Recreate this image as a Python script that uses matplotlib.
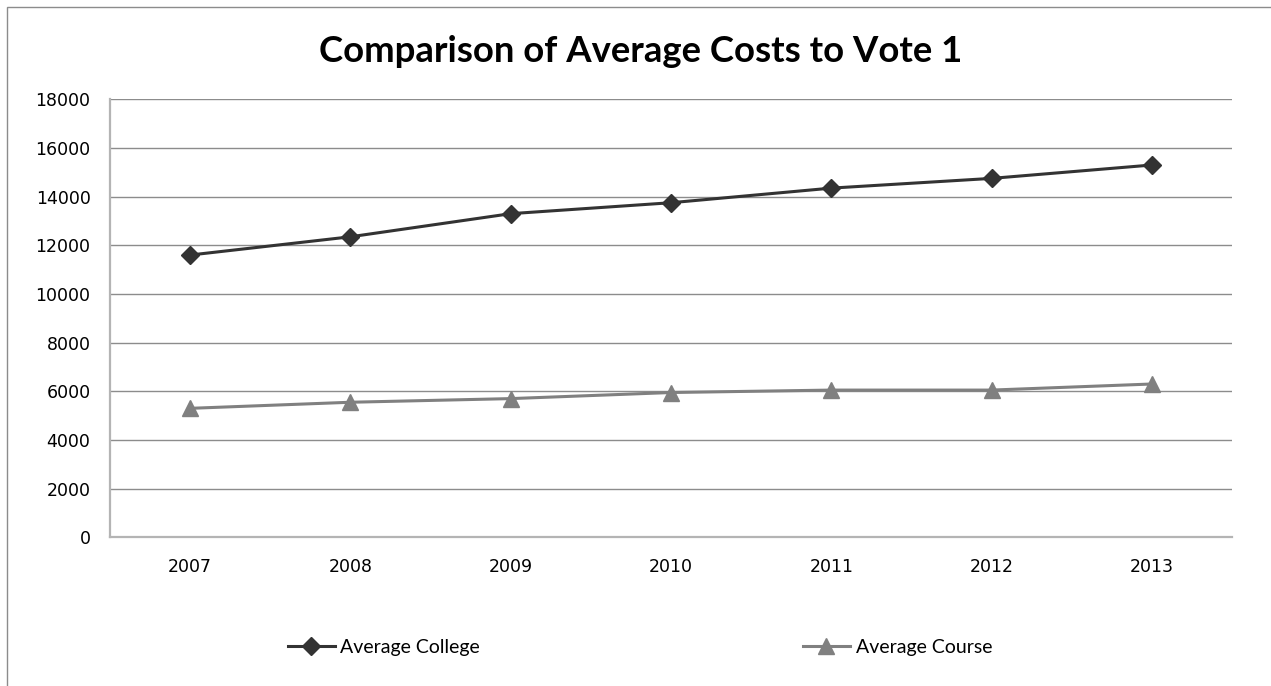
import matplotlib
matplotlib.use("Agg")
import matplotlib.pyplot as plt
from matplotlib.patches import Rectangle

# data
years = ["2007", "2008", "2009", "2010", "2011", "2012", "2013"]
avg_college = [11600, 12350, 13300, 13750, 14350, 14750, 15300]
avg_course = [5300, 5550, 5700, 5950, 6050, 6050, 6300]
y_ticks = [0, 2000, 4000, 6000, 8000, 10000, 12000, 14000, 16000, 18000]

W, H = 1271, 686
fig = plt.figure(figsize=(W / 100, H / 100), dpi=100)

# outer chart frame (only top and left edges visible in the reference)
fig.patches.append(Rectangle((7 / W, -0.1), 1.2, 1 - 7 / H + 0.1,
                             transform=fig.transFigure, fill=False,
                             edgecolor="#8c8c8c", linewidth=1.0, clip_on=False))

ax = fig.add_axes([110 / W, 1 - 537.3 / H, (1232 - 110) / W, (537.3 - 99.3) / H])

x = range(len(years))
ax.plot(x, avg_college, color="#333333", linewidth=2.2, marker="D",
        markersize=9, label="Average College")
ax.plot(x, avg_course, color="#808080", linewidth=2.2, marker="^",
        markersize=12, label="Average Course")

ax.set_xlim(-0.5, len(years) - 0.5)
ax.set_ylim(0, 18000)
ax.set_xticks(list(x))
ax.set_xticklabels(years)
ax.set_yticks(y_ticks)
ax.set_yticklabels([str(v) for v in y_ticks])
ax.tick_params(axis="both", length=0, labelsize=12.5, colors="#000000")
ax.tick_params(axis="y", pad=14)
ax.tick_params(axis="x", pad=15)

ax.grid(axis="y", color="#8c8c8c", linewidth=1.0)
ax.set_axisbelow(True)
for side in ["top", "right"]:
    ax.spines[side].set_visible(False)
for side in ["left", "bottom"]:
    ax.spines[side].set_color("#b4b4b4")
    ax.spines[side].set_linewidth(1.6)

fig.text(0.504, 1 - 52 / H, "Comparison of Average Costs to Vote 1",
         ha="center", va="center", fontsize=26.3, fontweight="bold",
         family=["Lato", "DejaVu Sans"])

# two legend entries placed separately like the Excel layout
lines = ax.get_lines()
leg_font = {"family": ["Lato", "DejaVu Sans"], "size": 14}
for line, left in zip(lines, [288, 803]):
    leg = fig.legend([line], [line.get_label()], loc="center left",
                     bbox_to_anchor=(left / W, 1 - 647 / H), frameon=False,
                     borderpad=0, borderaxespad=0, handlelength=2.4,
                     handletextpad=0.3, prop=leg_font)

fig.savefig("out.png", dpi=100)
